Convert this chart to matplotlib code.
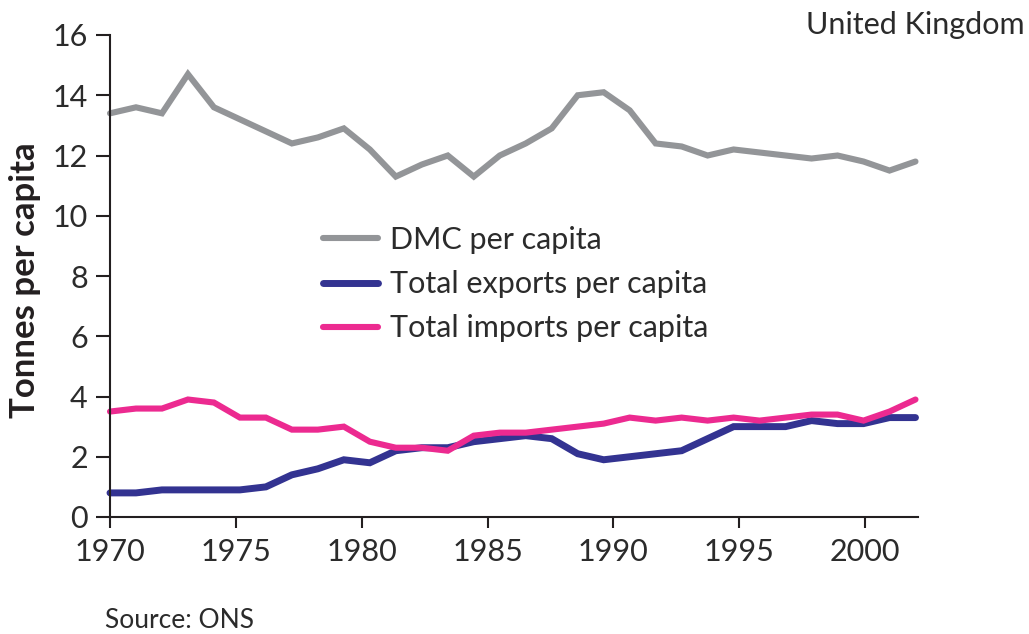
import numpy as np
import matplotlib
matplotlib.use("Agg")
import matplotlib.pyplot as plt

plt.rcParams['font.family'] = ['Lato', 'DejaVu Sans']

# values, one point per year 1970-2001
dmc = [13.4, 13.6, 13.4, 14.7, 13.6, 13.2, 12.8, 12.4, 12.6, 12.9,
       12.2, 11.3, 11.7, 12.0, 11.3, 12.0, 12.4, 12.9, 14.0, 14.1,
       13.5, 12.4, 12.3, 12.0, 12.2, 12.1, 12.0, 11.9, 12.0, 11.8,
       11.5, 11.8]
exports = [0.8, 0.8, 0.9, 0.9, 0.9, 0.9, 1.0, 1.4, 1.6, 1.9,
           1.8, 2.2, 2.3, 2.3, 2.5, 2.6, 2.7, 2.6, 2.1, 1.9,
           2.0, 2.1, 2.2, 2.6, 3.0, 3.0, 3.0, 3.2, 3.1, 3.1,
           3.3, 3.3]
imports = [3.5, 3.6, 3.6, 3.9, 3.8, 3.3, 3.3, 2.9, 2.9, 3.0,
           2.5, 2.3, 2.3, 2.2, 2.7, 2.8, 2.8, 2.9, 3.0, 3.1,
           3.3, 3.2, 3.3, 3.2, 3.3, 3.2, 3.3, 3.4, 3.4, 3.2,
           3.5, 3.9]
labels = ['DMC per capita', 'Total exports per capita', 'Total imports per capita']
colors = ['#939598', '#333391', '#EC2A90']
xticks = [1970, 1975, 1980, 1985, 1990, 1995, 2000]
yticks = [0, 2, 4, 6, 8, 10, 12, 14, 16]

# the original stretches the series across the full 1970-2002 axis
x = np.linspace(1970, 2002, len(dmc))

ink = '#231F20'
txt = '#2b2b2b'
fig = plt.figure(figsize=(10.29, 6.34), dpi=100)
ax = fig.add_axes([110 / 1029, 1 - 517 / 634, 808 / 1029, (517 - 35) / 634])

for series, lab, col, lw in zip([dmc, exports, imports], labels, colors, [4.4, 5.0, 4.4]):
    ax.plot(x, series, color=col, lw=lw, label=lab, solid_capstyle='round',
            solid_joinstyle='miter', clip_on=False)

ax.set_xlim(1970, 2002.1)
ax.set_ylim(0, 16)
ax.set_xticks(xticks)
ax.set_yticks(yticks)
for s in ['top', 'right']:
    ax.spines[s].set_visible(False)
for s in ['left', 'bottom']:
    ax.spines[s].set_linewidth(1.5)
    ax.spines[s].set_color(ink)
ax.tick_params(axis='y', length=10, width=1.5, color=ink, pad=6,
               labelsize=22, labelcolor=txt)
ax.tick_params(axis='x', length=8, width=1.5, color=ink, pad=7,
               labelsize=22, labelcolor=txt)

leg = ax.legend(loc='upper left', bbox_to_anchor=(323 / 1029, 1 - 226 / 634),
                bbox_transform=fig.transFigure, frameon=False, fontsize=22,
                handlelength=1.8, handletextpad=0.4, labelspacing=0.53,
                borderpad=0, borderaxespad=0)
for t in leg.get_texts():
    t.set_color(txt)

fig.text(25 / 1029, 1 - 280 / 634, 'Tonnes per capita', rotation=90,
         ha='center', va='center', fontsize=25, fontweight='bold', color=ink)
fig.text(1025 / 1029, 1 - 25 / 634, 'United Kingdom', ha='right', va='center',
         fontsize=22, color=txt)
fig.text(105 / 1029, 1 - 620 / 634, 'Source: ONS', ha='left', va='center',
         fontsize=19, color=txt)

fig.savefig('out.png', dpi=100)
